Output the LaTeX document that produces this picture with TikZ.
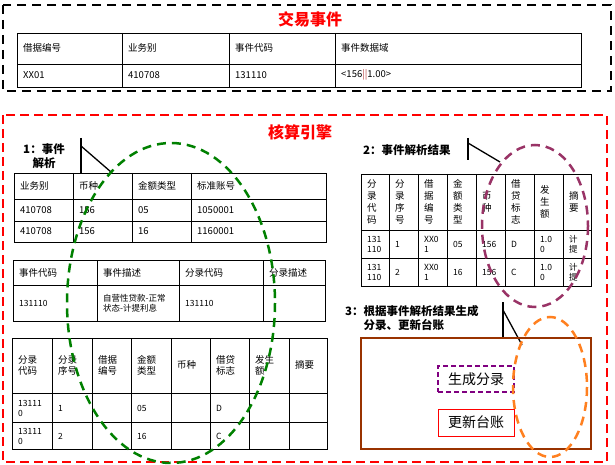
\documentclass[tikz,border=0pt]{standalone}
\usepackage{fontspec}
\setmainfont{Noto Sans CJK SC}
\definecolor{plum}{RGB}{153,51,102}
\definecolor{rust}{RGB}{153,51,0}
\definecolor{leaf}{RGB}{0,128,0}
\definecolor{tangerine}{RGB}{255,128,32}
\tikzset{
	tbl/.style={line width=0.9pt},
	cell/.style={anchor=west, inner sep=0pt, align=left, font=\fontsize{9.5}{11}\selectfont},
	smallcell/.style={cell, font=\fontsize{8.5}{10}\selectfont},
	vcell/.style={cell, font=\fontsize{9.5}{12}\selectfont},
	title/.style={text=red, font=\fontsize{16}{18}\selectfont\bfseries},
	lbl/.style={inner sep=0pt, font=\fontsize{11.5}{14}\selectfont\bfseries},
	callout/.style={line width=1.3pt},
	ring/.style={line width=2.5pt, dash pattern=on 9pt off 6pt},
}
\begin{document}
\begin{tikzpicture}[x=1pt, y=-1pt]
	\useasboundingbox (0,0) rectangle (615,465);
	
	% top block
	\draw[line width=2.5pt, dash pattern=on 9pt off 6pt] (3,5) rectangle (611,91);
	\node[title] (evt) at (310,19) {交易事件};
	\draw[tbl] (17,33) rectangle (581,87);
	\draw[tbl] (17,64) -- (581,64);
	\foreach \x in {122,229,335} \draw[tbl] (\x,33) -- (\x,87);
	\foreach \x/\t [count=\i] in {17/借据编号, 122/业务别, 229/事件代码, 335/事件数据域}
		\node[cell] (e0h\i) at (\x+6,48) {\t};
	\foreach \x/\t [count=\i] in {17/XX01, 122/410708, 229/131110, 335/{<156{\color{red!45!gray}||}1.00>}}
		\node[cell] (e0d\i) at (\x+6,75) {\t};
	
	% engine block
	\draw[red, line width=2.5pt, dash pattern=on 9pt off 5pt] (3,115) rectangle (607,462);
	\node[title] (eng) at (300,132) {核算引擎};
	
	% 1
	\node[lbl, align=center] (step1) at (44,156) {1：事件\\解析};
	\coordinate (k1a) at (81,138);
	\coordinate (k1b) at (81,174);
	\coordinate (k1c) at (81,146);
	\coordinate (k1d) at (111,172);
	\draw[callout] (k1a) -- (k1b);
	\draw[callout] (k1c) -- (k1d);
	
	\draw[tbl] (14,173) rectangle (326,242);
	\foreach \y in {199,221} \draw[tbl] (14,\y) -- (326,\y);
	\foreach \x in {73,132,191} \draw[tbl] (\x,173) -- (\x,242);
	\foreach \x/\a/\b/\c [count=\i] in {14/业务别/410708/410708, 73/币种/156/156, 132/金额类型/05/16, 191/标准账号/1050001/1160001}{
		\node[cell] (t1h\i) at (\x+6,186) {\a};
		\node[cell] (t1a\i) at (\x+6,210) {\b};
		\node[cell] (t1b\i) at (\x+6,231.5) {\c};
	}
	
	\draw[tbl] (13,260) rectangle (325,321);
	\draw[tbl] (13,285) -- (325,285);
	\foreach \x in {97,179,263} \draw[tbl] (\x,260) -- (\x,321);
	\foreach \x/\t [count=\i] in {13/事件代码, 97/事件描述, 179/分录代码, 263/分录描述}
		\node[cell] (t2h\i) at (\x+6,272.5) {\t};
	\node[smallcell] (t2a1) at (19,303) {131110};
	\node[smallcell] (t2a2) at (103,303) {自营性贷款-正常\\状态-计提利息};
	\node[smallcell] (t2a3) at (185,303) {131110};
	
	\draw[tbl] (12,338) rectangle (327,449);
	\foreach \y in {393,422} \draw[tbl] (12,\y) -- (327,\y);
	\foreach \x in {52,92,131,171,210,249,289} \draw[tbl] (\x,338) -- (\x,449);
	\foreach \x/\t [count=\i] in {12/{分录\\代码}, 52/{分录\\序号}, 92/{借据\\编号}, 131/{金额\\类型}, 171/币种, 210/{借贷\\标志}, 249/{发生\\额}, 289/摘要}
		\node[cell] (t3h\i) at (\x+6,365) {\t};
	\foreach \x/\a/\b [count=\i] in {12/{13111\\0}/{13111\\0}, 52/1/2, 131/05/16, 210/D/C}{
		\node[smallcell] (t3a\i) at (\x+6,408) {\a};
		\node[smallcell] (t3b\i) at (\x+6,436) {\b};
	}
	
	% 2
	\node[lbl, anchor=west] (step2) at (363,150) {2：事件解析结果};
	\coordinate (k2a) at (468,138);
	\coordinate (k2b) at (468,160);
	\coordinate (k2c) at (468,143);
	\coordinate (k2d) at (500,162);
	\draw[callout] (k2a) -- (k2b);
	\draw[callout] (k2c) -- (k2d);
	
	\draw[tbl] (361,174) rectangle (591,286);
	\foreach \y in {230,258} \draw[tbl] (361,\y) -- (591,\y);
	\foreach \x in {389,418,447,476,505,534,563} \draw[tbl] (\x,174) -- (\x,286);
	\foreach \x/\t [count=\i] in {361/{分\\录\\代\\码}, 389/{分\\录\\序\\号}, 418/{借\\据\\编\\号}, 447/{金\\额\\类\\型}, 476/{币\\种}, 505/{借\\贷\\标\\志}, 534/{发\\生\\额}, 563/{摘\\要}}
		\node[vcell] (r2h\i) at (\x+6,202) {\t};
	\foreach \x/\a/\b [count=\i] in {361/{131\\110}/{131\\110}, 389/1/2, 418/{XX0\\1}/{XX0\\1}, 447/05/16, 476/156/156, 505/D/C, 534/{1.0\\0}/{1.0\\0}, 563/{计\\提}/{计\\提}}{
		\node[smallcell] (r2a\i) at (\x+6,244) {\a};
		\node[smallcell] (r2b\i) at (\x+6,272) {\b};
	}
	
	% 3
	\node[lbl, anchor=north west] (step3) at (345,305)
		{\begin{tabular}{@{}l@{}l@{}}3：&根据事件解析结果生成\\&分录、更新台账\end{tabular}};
	\coordinate (k3a) at (503,302);
	\coordinate (k3b) at (503,338);
	\coordinate (k3c) at (503,310);
	\coordinate (k3d) at (522,345);
	\draw[callout] (k3a) -- (k3b);
	\draw[callout] (k3c) -- (k3d);
	
	\draw[rust, line width=1.2pt] (361,338) rectangle (591,449);
	\node[draw=violet, line width=1.6pt, dash pattern=on 5pt off 3pt, minimum width=76pt, minimum height=26pt, inner sep=0pt, font=\fontsize{14}{16}\selectfont] (gen) at (476,379) {生成分录};
	\node[draw=red, line width=1pt, minimum width=76pt, minimum height=27pt, inner sep=0pt, font=\fontsize{14}{16}\selectfont] (upd) at (476,422.5) {更新台账};
	
	% rings
	\draw[ring, leaf] (171,303) ellipse [x radius=104, y radius=160];
	\draw[ring, plum] (535,226) ellipse [x radius=53, y radius=81];
	\draw[ring, tangerine] (550,387) ellipse [x radius=37, y radius=70];
\end{tikzpicture}
\end{document}
